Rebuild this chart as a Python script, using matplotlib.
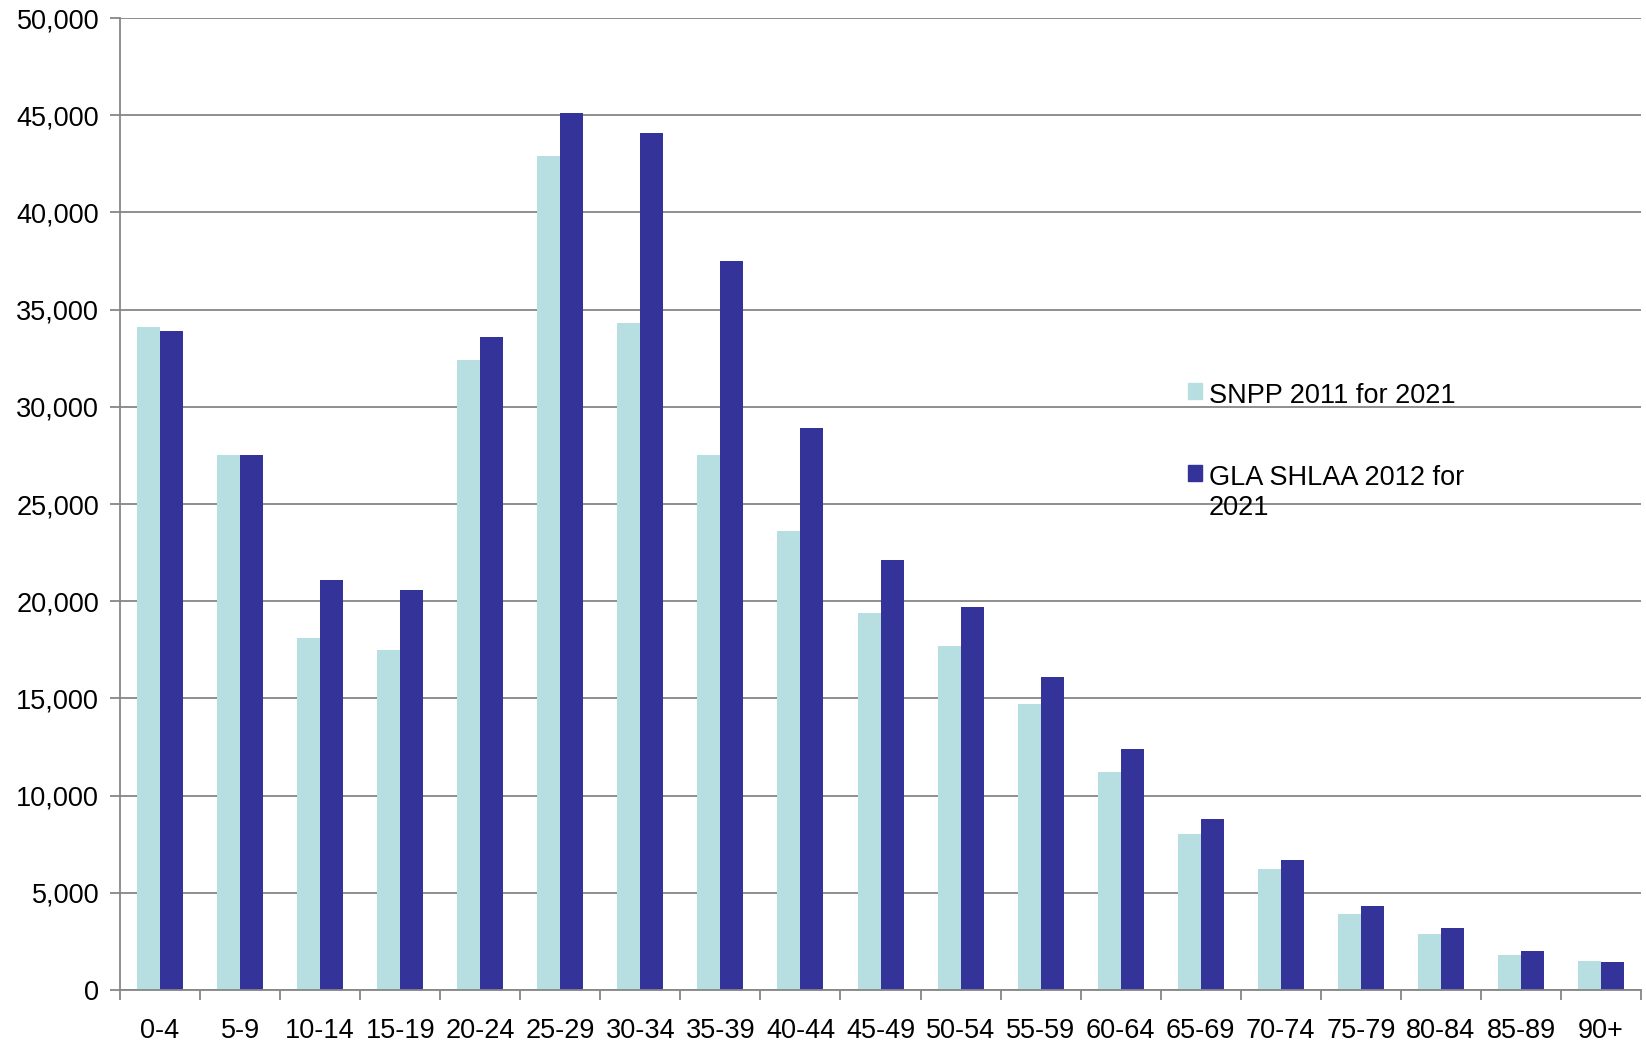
import matplotlib.pyplot as plt
import numpy as np
from matplotlib.patches import Patch
from matplotlib.ticker import FuncFormatter

plt.rcParams['font.family'] = ['Liberation Sans', 'DejaVu Sans']

# age bands and the two projections for 2021
ages = ['0-4', '5-9', '10-14', '15-19', '20-24', '25-29', '30-34', '35-39', '40-44',
        '45-49', '50-54', '55-59', '60-64', '65-69', '70-74', '75-79', '80-84', '85-89', '90+']
snpp = [34100, 27500, 18100, 17500, 32400, 42900, 34300, 27500, 23600,
        19400, 17700, 14700, 11200, 8000, 6200, 3900, 2900, 1800, 1500]
gla = [33900, 27500, 21100, 20600, 33600, 45100, 44100, 37500, 28900,
       22100, 19700, 16100, 12400, 8800, 6700, 4300, 3200, 2000, 1450]

snpp_label = 'SNPP 2011 for 2021'
gla_label = 'GLA SHLAA 2012 for\n2021'

light = '#B7DFE1'
dark = '#333399'
grey = '#868686'
fs = 19.5

fig = plt.figure(figsize=(16.46, 10.41), dpi=100)
ax = fig.add_axes([0.0729, 0.049, 0.9241, 0.9337])

x = np.arange(len(ages))
w = 0.2875
ax.bar(x - w / 2, snpp, w, color=light, zorder=3)
ax.bar(x + w / 2, gla, w, color=dark, zorder=3)

ax.set_xlim(-0.5, len(ages) - 0.5)
ax.set_ylim(0, 50000)
ax.set_yticks(np.arange(0, 50001, 5000))
ax.yaxis.set_major_formatter(FuncFormatter(lambda v, p: f'{int(v):,}'))
ax.yaxis.grid(True, color=grey, linewidth=1.3, zorder=0)

# category labels centred, tick marks at the boundaries
ax.set_xticks(np.arange(-0.5, len(ages), 1))
ax.set_xticklabels([])
ax.set_xticks(x, minor=True)
ax.set_xticklabels(ages, minor=True)
ax.tick_params(axis='x', which='major', length=7, color=grey, width=1.3)
ax.tick_params(axis='x', which='minor', length=0, pad=20, labelsize=fs)
ax.tick_params(axis='y', length=7, color=grey, width=1.3, labelsize=fs, pad=8)

for s in ['top', 'right']:
    ax.spines[s].set_visible(False)
for s in ['left', 'bottom']:
    ax.spines[s].set_color(grey)
    ax.spines[s].set_linewidth(1.3)
ax.spines['bottom'].set_zorder(4)

handles = [Patch(color=light, label=snpp_label), Patch(color=dark, label=gla_label)]
leg = ax.legend(handles=handles, loc='upper left', bbox_to_anchor=(0.702, 0.624),
                frameon=False, fontsize=fs, handlelength=0.52, handleheight=0.52,
                handletextpad=0.25, labelspacing=2.06, borderpad=0, borderaxespad=0)
# keep each square level with the first line of its label
for col in leg._legend_handle_box.get_children():
    for item in col.get_children():
        item.align = 'top'

fig.savefig('out.png', dpi=100)
